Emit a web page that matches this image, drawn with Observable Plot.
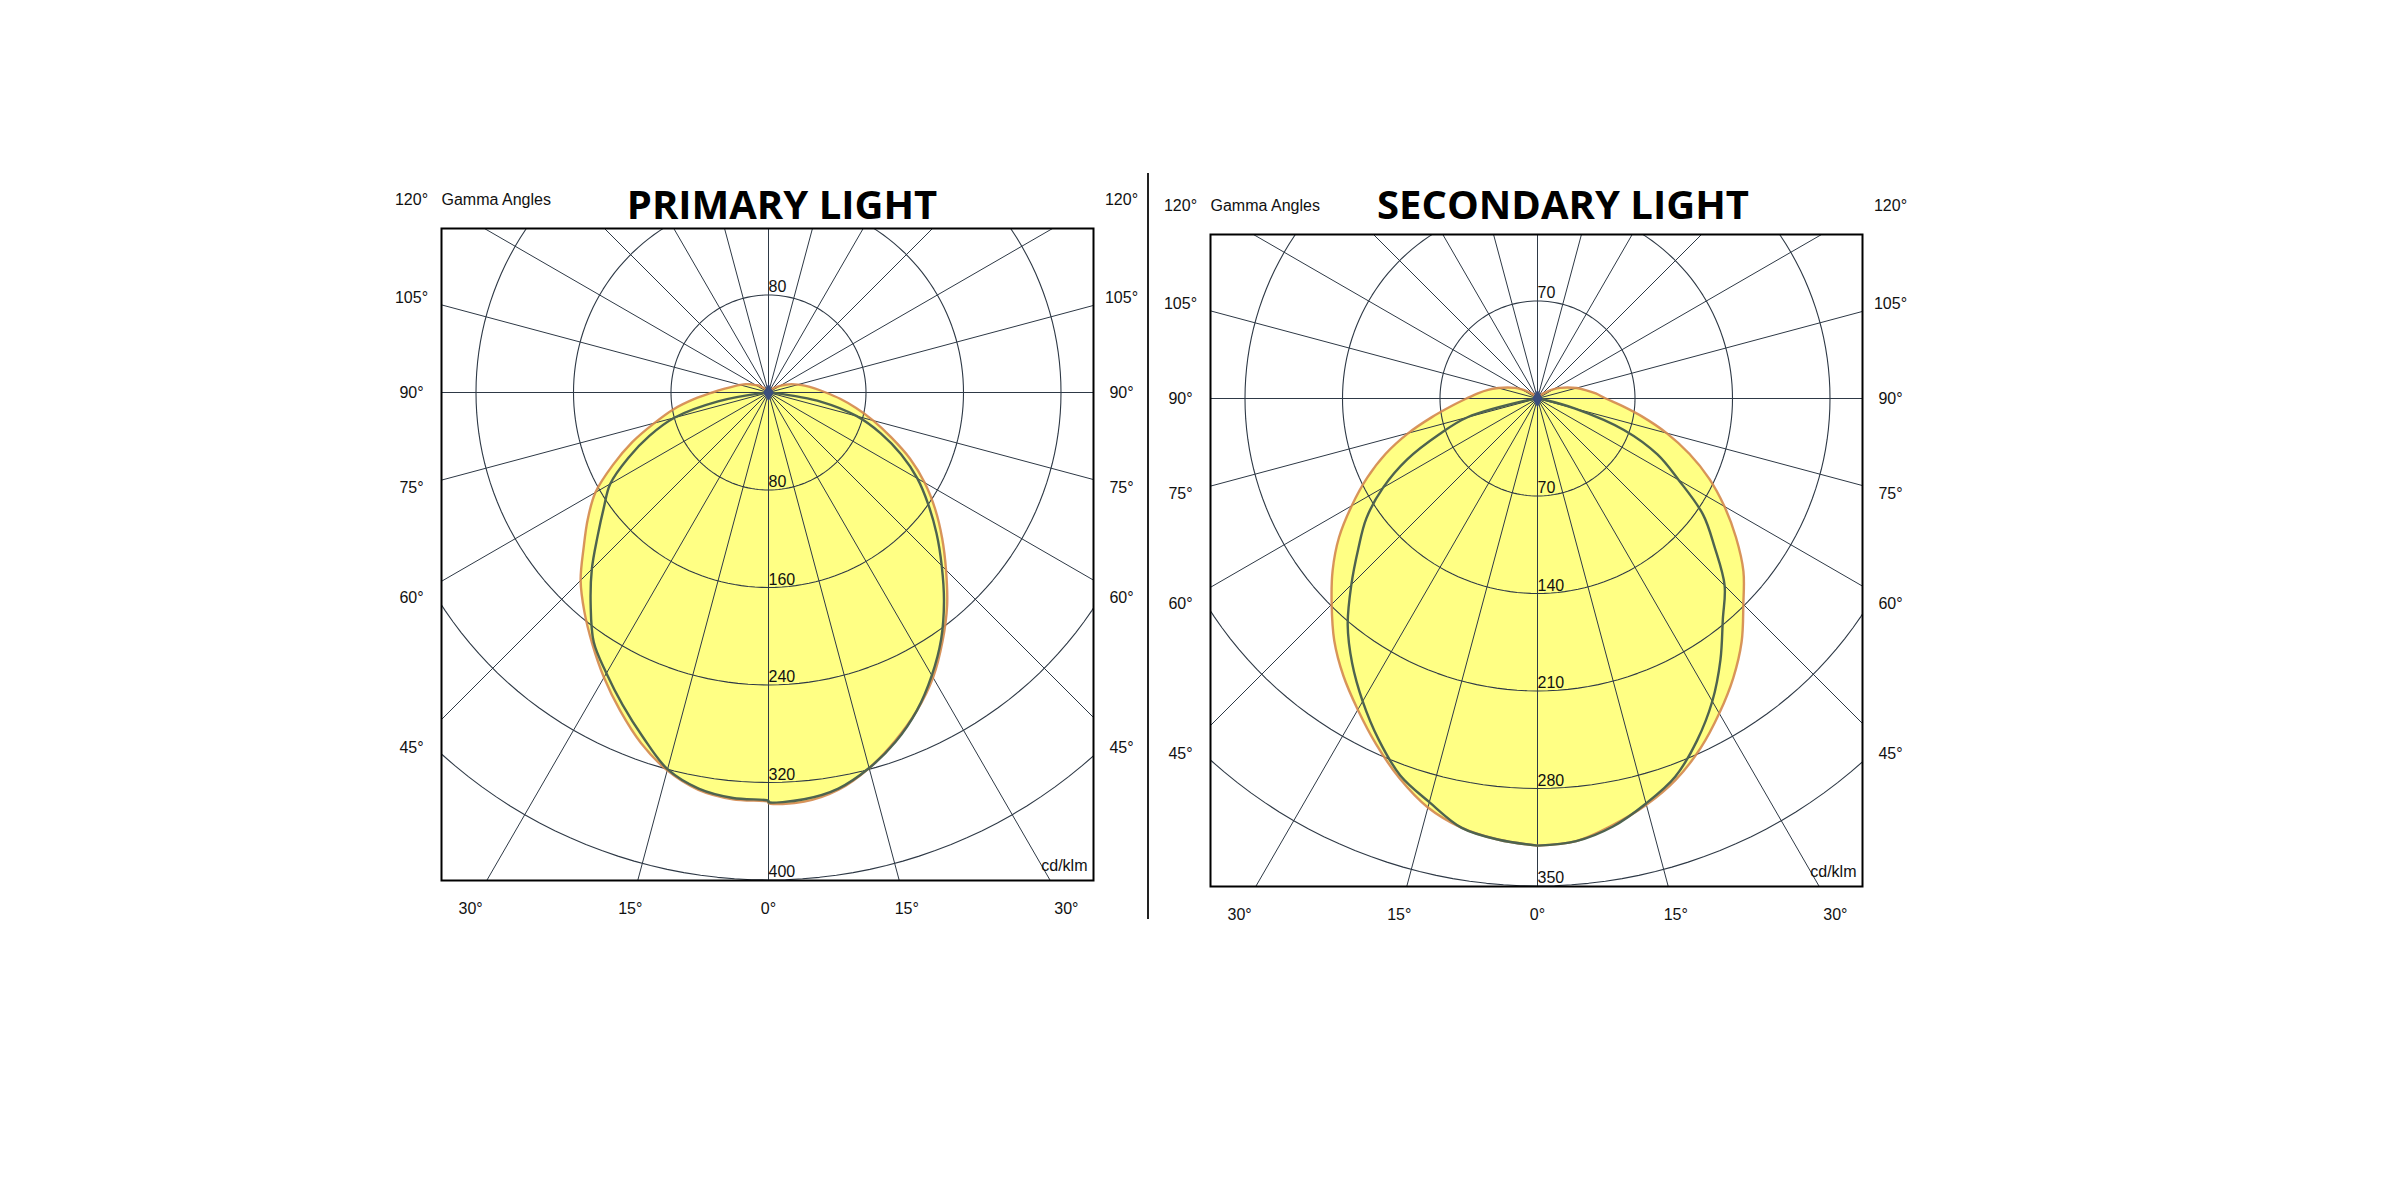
<!DOCTYPE html>
<html>
<head>
<meta charset="utf-8">
<script src="https://cdn.jsdelivr.net/npm/d3@7"></script>
<script src="https://cdn.jsdelivr.net/npm/@observablehq/plot@0.6"></script>
<style>
  body { margin: 0; background: #fff; }
  #page { position: relative; width: 2398px; height: 1198px; overflow: hidden; background: #fff; }
  .title {
    position: absolute; transform: translateX(-50%); white-space: nowrap;
    font-family: "Open Sans", sans-serif; font-weight: 700; font-size: 40px;
    line-height: 1; color: #000;
  }
  .chart { position: absolute; }
  #divider { position: absolute; left: 1147px; top: 173px; width: 2px; height: 746px; background: #222; }
</style>
</head>
<body>
<div id="page">
  <div class="title" style="left:782px;top:184px">PRIMARY LIGHT</div>
  <div class="title" style="left:1563px;top:184px">SECONDARY LIGHT</div>
  <div id="divider"></div>
  <div class="chart" id="primary" style="left:380px;top:180px"></div>
  <div class="chart" id="secondary" style="left:1150px;top:186px"></div>
</div>
<script>
// Gamma angles (degrees from straight down), one value every 5°.
const gammas = d3.range(0, 181, 5);

// Ring (cd/klm) values for each diagram.
const primaryRings = [80, 160, 240, 320, 400];
const secondaryRings = [70, 140, 210, 280, 350];

// Gamma tick labels round the frame.
const gammaTicks = [0, 15, 30, 45, 60, 75, 90, 105, 120];

// PRIMARY LIGHT, cd/klm. C0/C180 plane (yellow) and C90/C270 plane (dark line).
const primaryC0 = [337, 337, 331, 319, 304, 288, 270, 249, 228, 206, 186, 167, 148, 128, 107, 89, 73, 59, 47,
  38, 31, 25, 20, 15, 11, 8, 6, 4, 2, 1, 0, 0, 0, 0, 0, 0, 0];
const primaryC180 = [336, 335, 331, 321, 306, 288, 270, 252, 235, 218, 198, 181, 164, 141, 119, 97, 79, 61, 46,
  36, 29, 24, 20, 16, 12, 10, 7, 5, 3, 2, 1, 0, 0, 0, 0, 0, 0];
const primaryC90 = [336, 335, 330, 319, 305, 288, 268, 247, 224, 201, 180, 160, 141, 120, 98, 75, 44, 4, 0,
  0, 0, 0, 0, 0, 0, 0, 0, 0, 0, 0, 0, 0, 0, 0, 0, 0, 0];
const primaryC270 = [335, 334, 330, 320, 301, 283, 266, 250, 227, 205, 183, 165, 150, 127, 104, 80, 42, 4, 0,
  0, 0, 0, 0, 0, 0, 0, 0, 0, 0, 0, 0, 0, 0, 0, 0, 0, 0];

// SECONDARY LIGHT, cd/klm.
const secondaryC0 = [321, 319, 311, 302, 291, 277, 261, 245, 228, 209, 193, 174, 155, 136, 116, 96, 77, 61, 49,
  42, 35, 29, 23, 18, 13, 9, 6, 3, 1, 0, 0, 0, 0, 0, 0, 0, 0];
const secondaryC180 = [321, 318, 313, 304, 290, 274, 258, 243, 227, 209, 192, 174, 154, 135, 116, 96, 77, 62, 51,
  43, 36, 29, 23, 18, 13, 9, 6, 3, 1, 0, 0, 0, 0, 0, 0, 0, 0];
const secondaryC90 = [321, 319, 312, 301, 289, 271, 251, 229, 207, 190, 166, 145, 117, 95, 66, 28, 5, 0, 0,
  0, 0, 0, 0, 0, 0, 0, 0, 0, 0, 0, 0, 0, 0, 0, 0, 0, 0];
const secondaryC270 = [321, 318, 313, 300, 288, 270, 251, 232, 212, 189, 168, 150, 128, 103, 75, 52, 8, 0, 0,
  0, 0, 0, 0, 0, 0, 0, 0, 0, 0, 0, 0, 0, 0, 0, 0, 0, 0];

// Drawing geometry, in screen pixels measured from the luminaire centre.
const PX_PER_RING = 97.5;
const FRAME = { left: 327, right: 325, top: 164, bottom: 488 };
const INK = "#111";
const GRID = "#2e3946";

const rad = (deg) => deg * Math.PI / 180;

// One plane as a closed polar path: left half (180 -> 0), then right half (0 -> 180).
function planePath(right, left) {
  const pts = [];
  for (let i = gammas.length - 1; i >= 0; i--) {
    const g = rad(gammas[i]);
    pts.push({ x: -left[i] * Math.sin(g), y: -left[i] * Math.cos(g) });
  }
  for (let i = 0; i < gammas.length; i++) {
    const g = rad(gammas[i]);
    pts.push({ x: right[i] * Math.sin(g), y: -right[i] * Math.cos(g) });
  }
  return pts;
}

function polarDiagram({ rings, c0, c180, c90, c270, margins }) {
  const u = rings[0] / PX_PER_RING; // cd/klm per pixel

  // Rings sampled as polylines so they go through the x/y scales.
  const ringPts = [];
  rings.forEach(function (r) {
    d3.range(0, 361, 2).forEach(function (a) {
      ringPts.push({ ring: r, x: r * Math.sin(rad(a)), y: r * Math.cos(rad(a)) });
    });
  });

  // Spokes every 15°, both sides, running out past the frame.
  const far = rings[rings.length - 1] * 3;
  const spokes = [];
  d3.range(0, 181, 15).forEach(function (g) {
    [-1, 1].forEach(function (s) {
      spokes.push({ x2: s * far * Math.sin(rad(g)), y2: -far * Math.cos(rad(g)) });
    });
  });

  // Ring labels: lower ones on every ring, upper one where it fits in the frame.
  const ringLabels = rings.map((r) => ({ x: 0, y: -r, t: String(r) }))
    .concat(rings.filter((r) => r / u < FRAME.top).map((r) => ({ x: 0, y: r, t: String(r) })));

  // Gamma labels on the spoke extensions round the frame.
  const gLabels = [];
  gammaTicks.forEach(function (g) {
    if (g <= 30) {
      const sides = g === 0 ? [1] : [-1, 1];
      sides.forEach(function (s) {
        gLabels.push({ x: s * 516 * Math.tan(rad(g)) * u, y: -516 * u, t: g + "°" });
      });
    } else {
      const dy = Math.min(193, -355 * Math.cos(rad(g)) / Math.sin(rad(g)));
      gLabels.push({ x: -357 * u, y: dy * u, t: g + "°" });
      gLabels.push({ x: 353 * u, y: dy * u, t: g + "°" });
    }
  });

  const W = FRAME.left + FRAME.right;
  const H = FRAME.top + FRAME.bottom;
  const smooth = "catmull-rom";

  return Plot.plot({
    width: margins.left + W + margins.right,
    height: margins.top + H + margins.bottom,
    marginLeft: margins.left,
    marginRight: margins.right,
    marginTop: margins.top,
    marginBottom: margins.bottom,
    style: {
      background: "transparent",
      fontFamily: '"Liberation Sans", Arial, sans-serif',
      fontSize: "16px",
      color: INK,
      overflow: "visible",
    },
    x: { domain: [-FRAME.left * u, FRAME.right * u], axis: null },
    y: { domain: [-FRAME.bottom * u, FRAME.top * u], axis: null },
    marks: [
      // C0-C180 plane fill
      Plot.line(planePath(c0, c180), { x: "x", y: "y", curve: smooth, fill: "#ffff84", stroke: "none" }),
      // polar grid
      Plot.line(ringPts, { x: "x", y: "y", z: "ring", stroke: GRID, strokeWidth: 1.1, clip: true }),
      Plot.link(spokes, { x1: () => 0, y1: () => 0, x2: "x2", y2: "y2", stroke: GRID, strokeWidth: 1, clip: true }),
      // plane outlines
      Plot.line(planePath(c0, c180), { x: "x", y: "y", curve: smooth, stroke: "#d4884e", strokeWidth: 2.4, strokeOpacity: 0.9 }),
      Plot.line(planePath(c90, c270), { x: "x", y: "y", curve: smooth, stroke: "#4e634f", strokeWidth: 2.4 }),
      Plot.frame({ stroke: "#000", strokeWidth: 2 }),
      Plot.dot([{ x: 0, y: 0 }], { x: "x", y: "y", symbol: "diamond", r: 4.5, fill: "#3b4f7d", stroke: "#3b4f7d" }),
      Plot.text(ringLabels, {
        x: "x", y: "y", text: "t", textAnchor: "start", lineAnchor: "bottom",
        dx: 0, dy: -3, fontSize: 16, fill: INK,
      }),
      Plot.text(gLabels, {
        x: "x", y: "y", text: "t", textAnchor: "middle", lineAnchor: "middle", fontSize: 16, fill: INK,
      }),
      Plot.text([{ x: -FRAME.left * u, y: 193 * u }], {
        x: "x", y: "y", text: () => "Gamma Angles", textAnchor: "start", lineAnchor: "middle",
        fontSize: 16, fill: INK,
      }),
      Plot.text([{ x: (FRAME.right - 6) * u, y: -(FRAME.bottom - 10) * u }], {
        x: "x", y: "y", text: () => "cd/klm", textAnchor: "end", lineAnchor: "bottom",
        fontSize: 16, fill: INK,
      }),
    ],
  });
}

document.getElementById("primary").appendChild(polarDiagram({
  rings: primaryRings, c0: primaryC0, c180: primaryC180, c90: primaryC90, c270: primaryC270,
  margins: { left: 61, right: 53, top: 48, bottom: 50 },
}));
document.getElementById("secondary").appendChild(polarDiagram({
  rings: secondaryRings, c0: secondaryC0, c180: secondaryC180, c90: secondaryC90, c270: secondaryC270,
  margins: { left: 60, right: 54, top: 48, bottom: 50 },
}));
</script>
</body>
</html>
